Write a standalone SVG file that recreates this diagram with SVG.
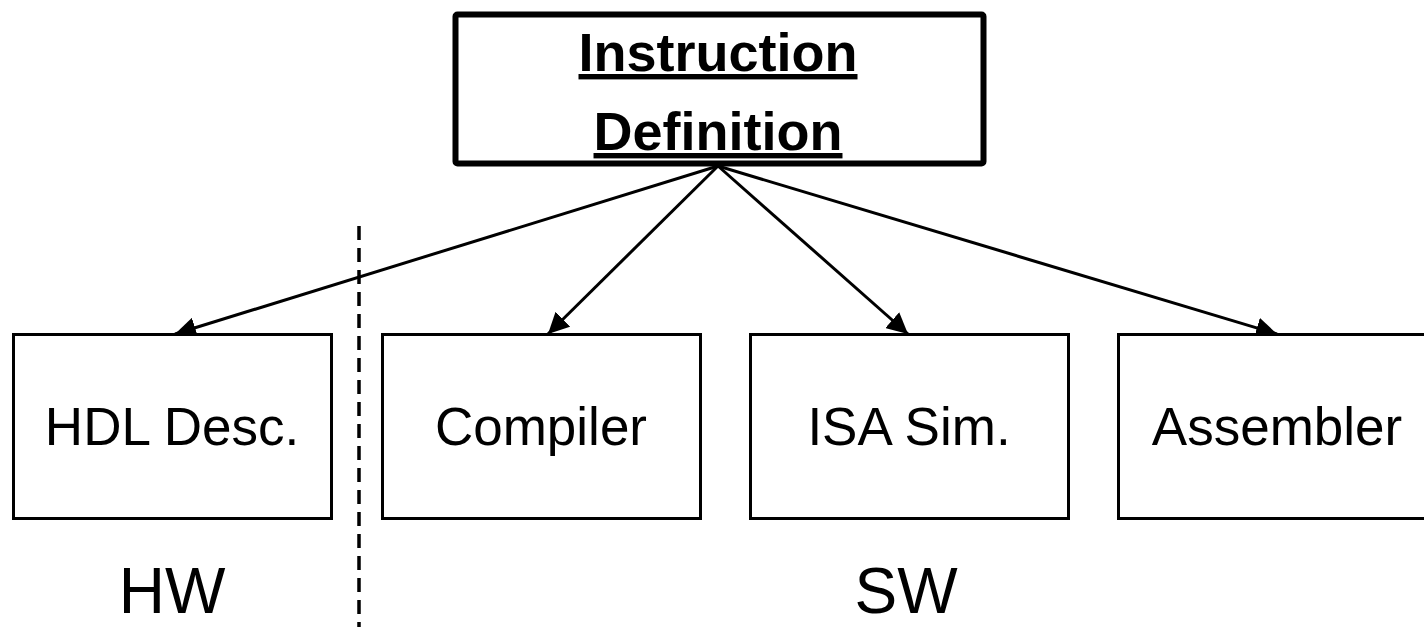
<svg xmlns="http://www.w3.org/2000/svg" width="1424" height="627" viewBox="0 0 1424 627">
<style>
.box{fill:#fff;stroke:#000;stroke-width:3}
.lbl{font-family:"Liberation Sans",Arial,sans-serif;font-size:53px;text-anchor:middle;fill:#000}
.big{font-family:"Liberation Sans",Arial,sans-serif;font-size:64px;text-anchor:middle;fill:#000}
.title{font-family:"Liberation Sans",Arial,sans-serif;font-size:54px;font-weight:bold;text-anchor:middle;fill:#000;text-decoration:underline}
.conn{stroke:#000;stroke-width:3;fill:none;marker-end:url(#ah)}
</style>
<defs>
<marker id="ah" viewBox="0 0 10 10" refX="10" refY="5" markerWidth="7" markerHeight="7" orient="auto" markerUnits="strokeWidth">
<path d="M0,0 L10,5 L0,10 z" fill="#000"/>
</marker>
</defs>
<rect width="1424" height="627" fill="#fff"/>
<g id="connectors">
<line class="conn" x1="718" y1="166" x2="175" y2="334"/>
<line class="conn" x1="718" y1="166" x2="548" y2="334"/>
<line class="conn" x1="718" y1="166" x2="908" y2="334"/>
<line class="conn" x1="718" y1="166" x2="1277" y2="334"/>
<line x1="359" y1="226" x2="359" y2="627" stroke="#000" stroke-width="3.5" stroke-dasharray="14,8"/>
</g>
<g id="instr">
<rect x="455.5" y="14.5" width="528" height="149" fill="#fff" stroke="#000" stroke-width="6" rx="2"/>
<text class="title" x="718" y="71">Instruction</text>
<text class="title" x="718" y="150">Definition</text>
</g>
<g id="hdl">
<rect class="box" x="13.5" y="334.5" width="318" height="184"/>
<text class="lbl" x="172" y="445">HDL Desc.</text>
</g>
<g id="compiler">
<rect class="box" x="382.5" y="334.5" width="318" height="184"/>
<text class="lbl" x="541" y="445">Compiler</text>
</g>
<g id="isa">
<rect class="box" x="750.5" y="334.5" width="318" height="184"/>
<text class="lbl" x="909" y="445">ISA Sim.</text>
</g>
<g id="assembler">
<rect class="box" x="1118.5" y="334.5" width="318" height="184"/>
<text class="lbl" x="1277" y="445">Assembler</text>
</g>
<g id="hw"><text class="big" x="172" y="613">HW</text></g>
<g id="sw"><text class="big" x="906" y="613">SW</text></g>
</svg>
